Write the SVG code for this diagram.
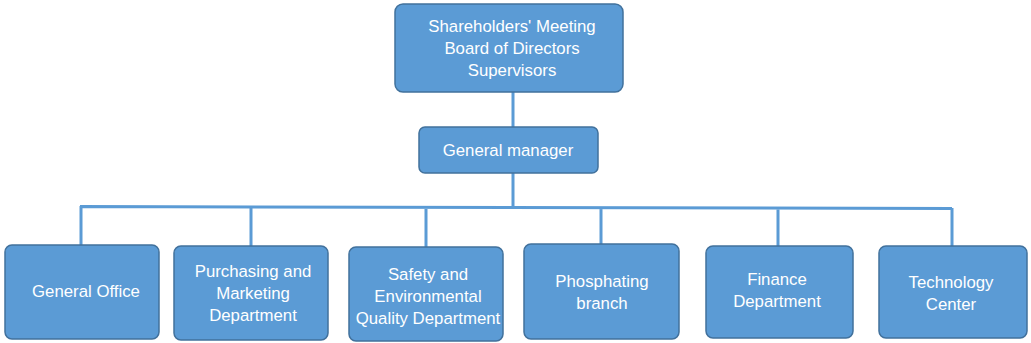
<svg xmlns="http://www.w3.org/2000/svg" width="1031" height="343" viewBox="0 0 1031 343">
<style>
.box{fill:#5b9bd5;stroke:#41719c;stroke-width:1.5}
.t{font-family:"Liberation Sans",Arial,sans-serif;font-size:16.8px;fill:#fff;text-anchor:middle;dominant-baseline:central}
.c{stroke:#5b9bd5;stroke-width:3;fill:none}
</style>
<rect width="1031" height="343" fill="#fff"/>
<g id="connectors">
<path class="c" d="M513 92V127M513 173V207M80 206.5L952 208.5M81 206V245M251 206V246M426 207V247M601 207V244M778 208V246M952 208V246"/>
</g>
<g id="top"><rect class="box" x="395" y="4" width="228" height="88" rx="8"/>
<text class="t" x="512" y="26">Shareholders' Meeting</text><text class="t" x="512" y="48">Board of Directors</text><text class="t" x="512" y="70">Supervisors</text></g>
<g id="gm"><rect class="box" x="419" y="127" width="179" height="46" rx="6"/><text class="t" x="508" y="150">General manager</text></g>
<g id="office"><rect class="box" x="5" y="245" width="154" height="94" rx="7"/><text class="t" x="86" y="291">General Office</text></g>
<g id="purchasing"><rect class="box" x="174" y="246" width="154" height="94" rx="7"/><text class="t" x="253" y="271">Purchasing and</text><text class="t" x="253" y="293">Marketing</text><text class="t" x="253" y="315">Department</text></g>
<g id="safety"><rect class="box" x="349" y="247" width="154" height="94" rx="7"/><text class="t" x="428" y="274">Safety and</text><text class="t" x="428" y="296">Environmental</text><text class="t" x="428" y="318">Quality Department</text></g>
<g id="phosphating"><rect class="box" x="524" y="244" width="155" height="95" rx="7"/><text class="t" x="602" y="281">Phosphating</text><text class="t" x="602" y="303">branch</text></g>
<g id="finance"><rect class="box" x="706" y="246" width="147" height="92" rx="7"/><text class="t" x="777" y="279">Finance</text><text class="t" x="777" y="301">Department</text></g>
<g id="technology"><rect class="box" x="879" y="246" width="148" height="92" rx="7"/><text class="t" x="951" y="282">Technology</text><text class="t" x="951" y="304">Center</text></g>
</svg>
